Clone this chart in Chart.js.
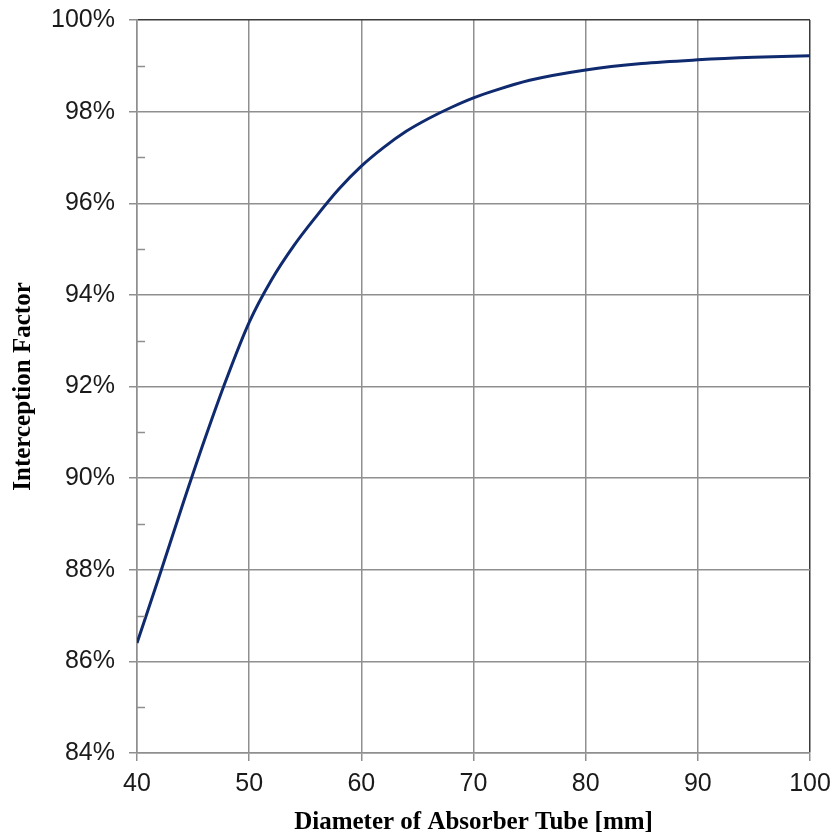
<!DOCTYPE html>
<html>
<head>
  <title>Interception Factor</title>
  <script src="https://cdn.jsdelivr.net/npm/chart.js"></script>
  <style>
    body { margin: 0; background: #fff; }
    #wrap { width: 837px; height: 836px; }
  </style>
</head>
<body>
  <div id="wrap"><canvas id="chart" width="837" height="836"></canvas></div>

  <script>
    // tube diameter [mm] and interception factor [%]
    const diameters = [40, 42, 44, 46, 48, 50, 52, 54, 56, 58, 60, 62, 64, 66, 68, 70, 72, 75, 80, 85, 90, 95, 100];
    const interception = [86.40, 87.87, 89.37, 90.82, 92.18, 93.40, 94.33, 95.08, 95.72, 96.31, 96.81, 97.22, 97.57, 97.85, 98.09, 98.30, 98.47, 98.685, 98.91, 99.05, 99.13, 99.185, 99.22];
    const xTicks = [40, 50, 60, 70, 80, 90, 100];
    const yTicks = [84, 86, 88, 90, 92, 94, 96, 98, 100];
    const yMinorTicks = [85, 87, 89, 91, 93, 95, 97, 99];

    const gridGray = '#8f8f8f';
    const frameDark = '#3a3a3a';

    // small inward ticks at the odd percentages
    const minorTicks = {
      id: 'minorTicks',
      afterDraw(chart) {
        const ctx = chart.ctx;
        const y = chart.scales.y;
        const left = chart.chartArea.left;
        ctx.save();
        ctx.strokeStyle = gridGray;
        ctx.lineWidth = 1.5;
        yMinorTicks.forEach(v => {
          const py = Math.round(y.getPixelForValue(v)) + 0.5;
          ctx.beginPath();
          ctx.moveTo(left, py);
          ctx.lineTo(left + 8, py);
          ctx.stroke();
        });
        ctx.restore();
      }
    };

    // keep the plot box where the original has it, labels may overhang
    function noOverhang(s) {
      s.paddingTop = 0;
      s.paddingBottom = 0;
      s.paddingLeft = 0;
      s.paddingRight = 0;
    }

    new Chart(document.getElementById('chart'), {
      type: 'line',
      data: {
        datasets: [{
          data: diameters.map((d, i) => ({ x: d, y: interception[i] })),
          borderColor: '#0f2a6e',
          borderWidth: 3,
          pointRadius: 0,
          cubicInterpolationMode: 'monotone',
          fill: false
        }]
      },
      options: {
        responsive: false,
        animation: false,
        layout: { padding: { top: 20, right: 27, left: 0, bottom: 0 } },
        plugins: { legend: { display: false }, tooltip: { enabled: false } },
        scales: {
          x: {
            type: 'linear',
            min: 40,
            max: 100,
            afterBuildTicks: s => { s.ticks = xTicks.map(v => ({ value: v })); },
            afterFit: s => { s.height = 83; noOverhang(s); },
            grid: {
              color: ctx => ctx.tick && ctx.tick.value === 100 ? frameDark : gridGray,
              tickColor: gridGray,
              lineWidth: 1.5,
              tickLength: 8
            },
            border: { color: gridGray, width: 1.5 },
            ticks: {
              color: '#1a1a1a',
              font: { family: 'Liberation Sans, Arial, sans-serif', size: 25 },
              padding: 8,
              maxRotation: 0
            },
            title: {
              display: true,
              text: 'Diameter of Absorber Tube [mm]',
              color: '#000',
              font: { family: 'Liberation Serif, Times New Roman, serif', size: 25, weight: 'bold' },
              padding: { top: 0, bottom: -2 }
            }
          },
          y: {
            type: 'linear',
            min: 84,
            max: 100,
            afterBuildTicks: s => { s.ticks = yTicks.map(v => ({ value: v })); },
            afterFit: s => { s.width = 137; noOverhang(s); },
            grid: {
              color: ctx => ctx.tick && ctx.tick.value === 100 ? frameDark : gridGray,
              tickColor: gridGray,
              lineWidth: 1.5,
              tickLength: 8
            },
            border: { color: gridGray, width: 1.5 },
            ticks: {
              color: '#1a1a1a',
              font: { family: 'Liberation Sans, Arial, sans-serif', size: 25 },
              padding: 14,
              callback: v => v + '%'
            },
            title: {
              display: true,
              text: 'Interception Factor',
              color: '#000',
              font: { family: 'Liberation Serif, Times New Roman, serif', size: 25, weight: 'bold' },
              padding: { top: 9, bottom: 0 }
            }
          }
        }
      },
      plugins: [minorTicks]
    });
  </script>
</body>
</html>
